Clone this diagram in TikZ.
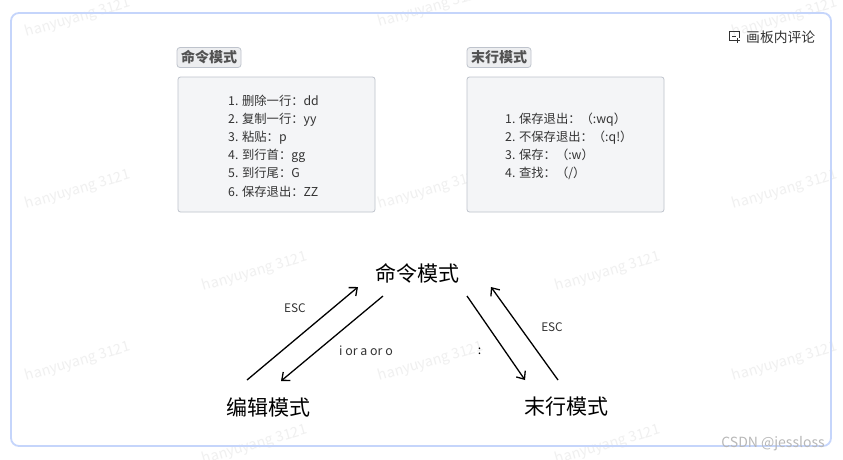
\documentclass[tikz,border=0pt]{standalone}
\usepackage{fontspec}
\setmainfont{Noto Sans CJK SC}
\usetikzlibrary{arrows.meta}
\definecolor{framec}{HTML}{C5D5FB}
\definecolor{boxfill}{HTML}{F4F5F7}
\definecolor{boxline}{HTML}{BEC3CC}
\definecolor{tagfill}{HTML}{EDEEF0}
\definecolor{inkc}{HTML}{333333}
\definecolor{wmc}{HTML}{F0F0F0}
\tikzset{
  frameb/.style={draw=framec,line width=1.8pt,rounded corners=8pt},
  card/.style={draw=boxline,fill=boxfill,line width=.8pt,rounded corners=2.5pt,minimum width=197pt,minimum height=135pt,inner sep=0pt},
  tag/.style={draw=boxline,fill=tagfill,line width=.8pt,rounded corners=3pt,minimum width=64pt,minimum height=20pt,inner sep=0pt,font=\fontsize{14}{15}\selectfont\bfseries,text=inkc!85!white},
  listtxt/.style={anchor=north west,inner sep=0pt,align=left,font=\fontsize{12.3}{18.2}\selectfont,text=inkc},
  modetxt/.style={inner sep=0pt,font=\fontsize{21}{22}\selectfont,text=black},
  edgelab/.style={inner sep=0pt,font=\fontsize{11.8}{13}\selectfont,text=inkc},
  flow/.style={draw=black,line width=1.3pt,-{Straight Barb[length=6.5pt,width=11pt,line width=1.3pt]}},
  wm/.style={inner sep=0pt,rotate=16,font=\fontsize{14.3}{17}\selectfont,text=wmc},
}
\begin{document}
\begin{tikzpicture}[x=1pt,y=-1pt]
\useasboundingbox (0,0) rectangle (843,459);
\fill[white] (0,0) rectangle (843,459);
% watermarks
\foreach \n/\px/\py in {a/78/18,b/431/8,c/785/18,d/255/100,e/608/100,f/78/190,g/431/190,h/785/190,i/255/272,j/608/272,k/78/362,l/431/362,m/785/362,n/255/445,o/608/445}{
  \node[wm] (wm\n) at (\px,\py) {hanyuyang 3121};
}
\draw[frameb] (11,13) rectangle (831,446);
% comment button
\node[inner sep=0pt,anchor=west,font=\fontsize{13.8}{14}\selectfont,text=inkc] (comment) at (746,37) {画板内评论};
\draw[inkc,line width=.9pt] (739,37.5) -- (739,31.5) -- (729.5,31.5) -- (729.5,40.5) -- (735,40.5);
\draw[inkc,line width=.9pt] (732,36) -- (736,36) (737.5,38) -- (737.5,43) (735,40.5) -- (740,40.5);
% legend cards
\node[tag] (tagA) at (209,57.5) {命令模式};
\node[tag] (tagB) at (499,57.5) {末行模式};
\node[card] (cardA) at (276.5,144.5) {};
\node[card] (cardB) at (565.5,144.5) {};
\node[listtxt] (listA) at (228,94.5) {1. 删除一行：dd\\2. 复制一行：yy\\3. 粘贴：p\\4. 到行首：gg\\5. 到行尾：G\\6. 保存退出：ZZ};
\node[listtxt] (listB) at (505,112.5) {1. 保存退出：（:wq）\\2. 不保存退出：（:q!）\\3. 保存：（:w）\\4. 查找：（/）};
% modes
\node[modetxt] (cmd) at (417,273) {命令模式};
\node[modetxt] (edit) at (268.5,407) {编辑模式};
\node[modetxt] (last) at (566,407) {末行模式};
% connector ends
\coordinate (e1s) at (247,380); \coordinate (e1t) at (358,287);
\coordinate (e2s) at (383,296); \coordinate (e2t) at (281,381);
\coordinate (e3s) at (467,296); \coordinate (e3t) at (525,380);
\coordinate (e4s) at (558,380); \coordinate (e4t) at (491,287);
\draw[flow] (e1s) -- (e1t);
\draw[flow] (e2s) -- (e2t);
\draw[flow] (e3s) -- (e3t);
\draw[flow] (e4s) -- (e4t);
\node[edgelab] (l1) at (295,308) {ESC};
\node[edgelab,font=\fontsize{12.4}{13}\selectfont] (l2) at (366,351) {i or a or o};
\node[edgelab,font=\fontsize{12.4}{13}\selectfont,text=black] (l3) at (479.5,351) {:};
\node[edgelab] (l4) at (552,327) {ESC};
\node[inner sep=0pt,font=\fontsize{14}{15}\selectfont,text=black!28] (csdn) at (773,444) {CSDN @jessloss};
\end{tikzpicture}
\end{document}
